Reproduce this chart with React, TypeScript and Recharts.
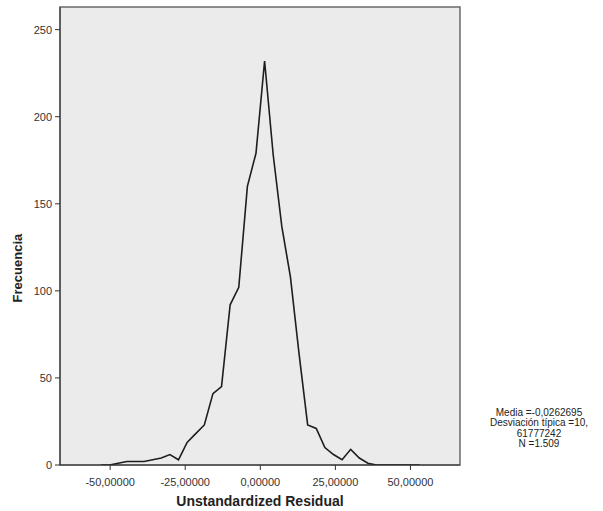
import React from 'react';
import {
  LineChart,
  Line,
  XAxis,
  YAxis,
  CartesianGrid,
  ReferenceArea,
} from 'recharts';

// bin centres of the residual histogram
const binCenters = [
  -53.04, -50.17, -47.31, -44.44, -41.58, -38.71, -35.84, -32.97, -30.11, -27.24,
  -24.37, -21.51, -18.64, -15.77, -12.91, -10.04, -7.17, -4.3, -1.44, 1.43,
  4.3, 7.16, 10.03, 12.9, 15.77, 18.63, 21.5, 24.37, 27.23, 30.1,
  32.97, 35.83, 38.7, 41.57, 44.44, 47.3, 50.17, 53.04,
];

const frequencies = [
  0, 0, 1, 2, 2, 2, 3, 4, 6, 3,
  13, 18, 23, 41, 45, 92, 102, 160, 179, 232,
  178, 137, 108, 64, 23, 21, 10, 6, 3, 9,
  4, 1, 0, 0, 0, 0, 0, 0,
];

const xTicks = [-50, -25, 0, 25, 50];
const yTicks = [0, 50, 100, 150, 200, 250];
const xDomain = [-66.7, 66.5];
const yDomain = [0, 263];

const statsLines = [
  'Media =-0,0262695',
  'Desviación típica =10,',
  '61777242',
  'N =1.509',
];

const data = binCenters.map((x, i) => ({ x, count: frequencies[i] }));

const font = '"Liberation Sans", Arial, sans-serif';

const formatX = (v: number) => v.toFixed(5).replace('.', ',');

export default function App() {
  return (
    <div
      style={{
        position: 'absolute',
        left: 0,
        top: 0,
        width: 603,
        height: 511,
        background: '#fff',
        fontFamily: font,
      }}
    >
      <LineChart
        width={603}
        height={511}
        data={data}
        margin={{ top: 7, right: 143, bottom: 0, left: 0 }}
      >
        <CartesianGrid horizontal={false} vertical={false} fill="#ebebeb" />

        <ReferenceArea
          x1={xDomain[0]}
          x2={xDomain[1]}
          y1={yDomain[0]}
          y2={yDomain[1]}
          fill="none"
          stroke="#6a6a6a"
          strokeWidth={1.5}
        />

        <XAxis
          dataKey="x"
          type="number"
          domain={xDomain}
          ticks={xTicks}
          interval={0}
          tickFormatter={formatX}
          allowDataOverflow
          height={46}
          tickSize={5}
          tickMargin={8}
          stroke="#333"
          tick={{ fill: '#333', fontSize: 11, fontFamily: font }}
          label={({ viewBox }: any) => (
            <text
              x={viewBox.x + viewBox.width / 2}
              y={viewBox.y + 41}
              textAnchor="middle"
              fontSize={14}
              fontWeight="bold"
              fontFamily={font}
              fill="#222"
            >
              Unstandardized Residual
            </text>
          )}
        />

        <YAxis
          type="number"
          domain={yDomain}
          ticks={yTicks}
          interval={0}
          allowDataOverflow
          width={60}
          tickSize={5}
          tickMargin={3}
          stroke="#333"
          tick={{ fill: '#333', fontSize: 11, fontFamily: font }}
          label={({ viewBox }: any) => {
            const cx = viewBox.x + 22;
            const cy = viewBox.y + viewBox.height * 0.57;
            return (
              <text
                x={cx}
                y={cy}
                transform={`rotate(-90, ${cx}, ${cy})`}
                textAnchor="middle"
                fontSize={13}
                fontWeight="bold"
                fontFamily={font}
                fill="#222"
              >
                Frecuencia
              </text>
            );
          }}
        />

        <Line
          type="linear"
          dataKey="count"
          stroke="#1e1e1e"
          strokeWidth={1.6}
          dot={false}
          isAnimationActive={false}
        />
      </LineChart>

      <div
        style={{
          position: 'absolute',
          left: 478,
          top: 408,
          width: 122,
          textAlign: 'center',
          fontSize: 10,
          lineHeight: '10.4px',
          color: '#222',
        }}
      >
        {statsLines.map((s) => (
          <div key={s}>{s}</div>
        ))}
      </div>
    </div>
  );
}
